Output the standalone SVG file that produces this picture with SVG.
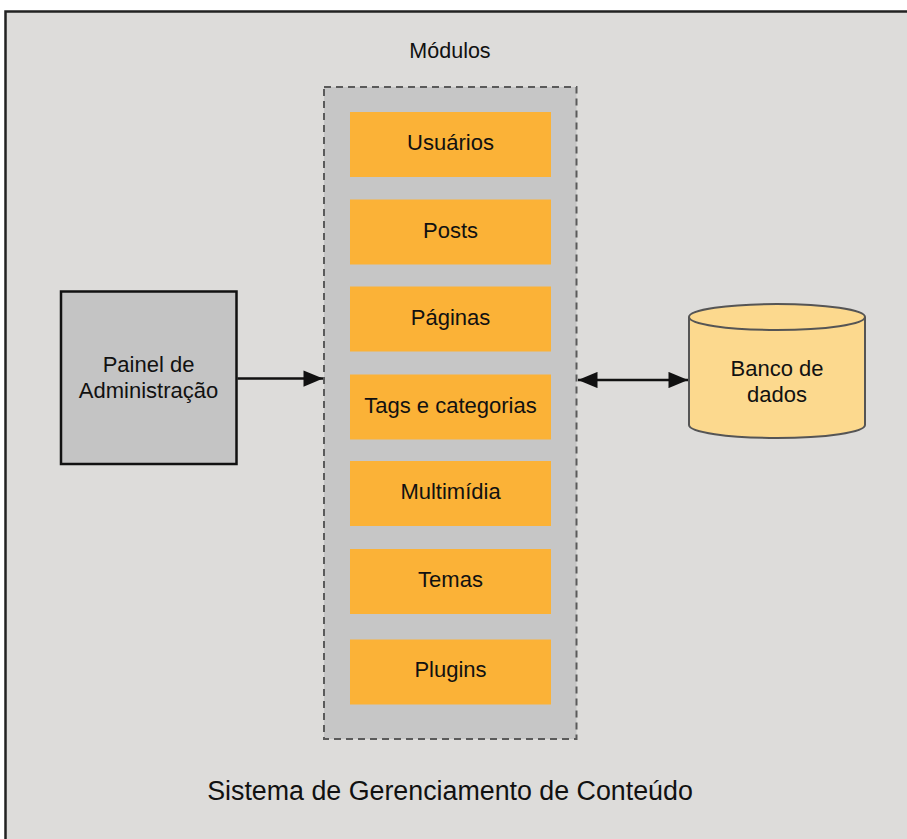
<svg xmlns="http://www.w3.org/2000/svg" width="907" height="839" viewBox="0 0 907 839">
  <defs>
    <style>
      text { font-family: "Liberation Sans", Arial, sans-serif; fill: #111; text-anchor: middle; }
      .mod rect { fill: #fbb237; }
      .mod text { font-size: 22px; }
      .lbl { font-size: 22px; }
      .conn { stroke: #111; stroke-width: 2.5; fill: none; }
    </style>
    <marker id="ah" viewBox="0 0 12 10" refX="12" refY="5" markerWidth="9" markerHeight="6.5" markerUnits="strokeWidth" orient="auto-start-reverse">
      <path d="M0,0 L12,5 L0,10 Z" fill="#111"/>
    </marker>
  </defs>

  <rect x="0" y="0" width="907" height="839" fill="#ffffff"/>
  <g id="frame">
    <rect x="5.5" y="11.5" width="920" height="850" fill="#dddcda" stroke="#222" stroke-width="2.5"/>
    <text x="450" y="800" style="font-size:26.8px">Sistema de Gerenciamento de Conteúdo</text>
  </g>

  <g id="modulos">
    <text x="450" y="58" style="font-size:21.5px">Módulos</text>
    <rect x="324" y="87" width="252.5" height="652" fill="#c6c6c6" stroke="#5a5a5a" stroke-width="2" stroke-dasharray="7,5"/>
  </g>

  <g id="usuarios" class="mod"><rect x="350" y="112" width="201" height="65"/><text x="450.5" y="150">Usuários</text></g>
  <g id="posts" class="mod"><rect x="350" y="199.5" width="201" height="65"/><text x="450.5" y="237.5">Posts</text></g>
  <g id="paginas" class="mod"><rect x="350" y="286.5" width="201" height="65"/><text x="450.5" y="324.5">Páginas</text></g>
  <g id="tags" class="mod"><rect x="350" y="374.5" width="201" height="65"/><text x="450.5" y="412.5">Tags e categorias</text></g>
  <g id="multimidia" class="mod"><rect x="350" y="461" width="201" height="65"/><text x="450.5" y="499">Multimídia</text></g>
  <g id="temas" class="mod"><rect x="350" y="549" width="201" height="65"/><text x="450.5" y="587">Temas</text></g>
  <g id="plugins" class="mod"><rect x="350" y="639.5" width="201" height="65"/><text x="450.5" y="677">Plugins</text></g>

  <g id="painel">
    <rect x="61" y="291.5" width="175.5" height="172.5" fill="#c4c4c4" stroke="#111" stroke-width="2.5"/>
    <text class="lbl" x="148.5" y="372">Painel de</text>
    <text class="lbl" x="148.5" y="398">Administração</text>
  </g>

  <g id="banco">
    <path d="M689,317 L689,425 A88,13 0 0 0 865,425 L865,317" fill="#fcd98e" stroke="#555" stroke-width="2"/>
    <ellipse cx="777" cy="317" rx="88" ry="13" fill="#fcd98e" stroke="#555" stroke-width="2"/>
    <text class="lbl" x="777" y="376">Banco de</text>
    <text class="lbl" x="777" y="402">dados</text>
  </g>

  <g id="connectors">
    <line class="conn" x1="237.5" y1="378.5" x2="323" y2="378.5" marker-end="url(#ah)"/>
    <line class="conn" x1="578" y1="380" x2="688" y2="380" marker-start="url(#ah)" marker-end="url(#ah)"/>
  </g>
</svg>
